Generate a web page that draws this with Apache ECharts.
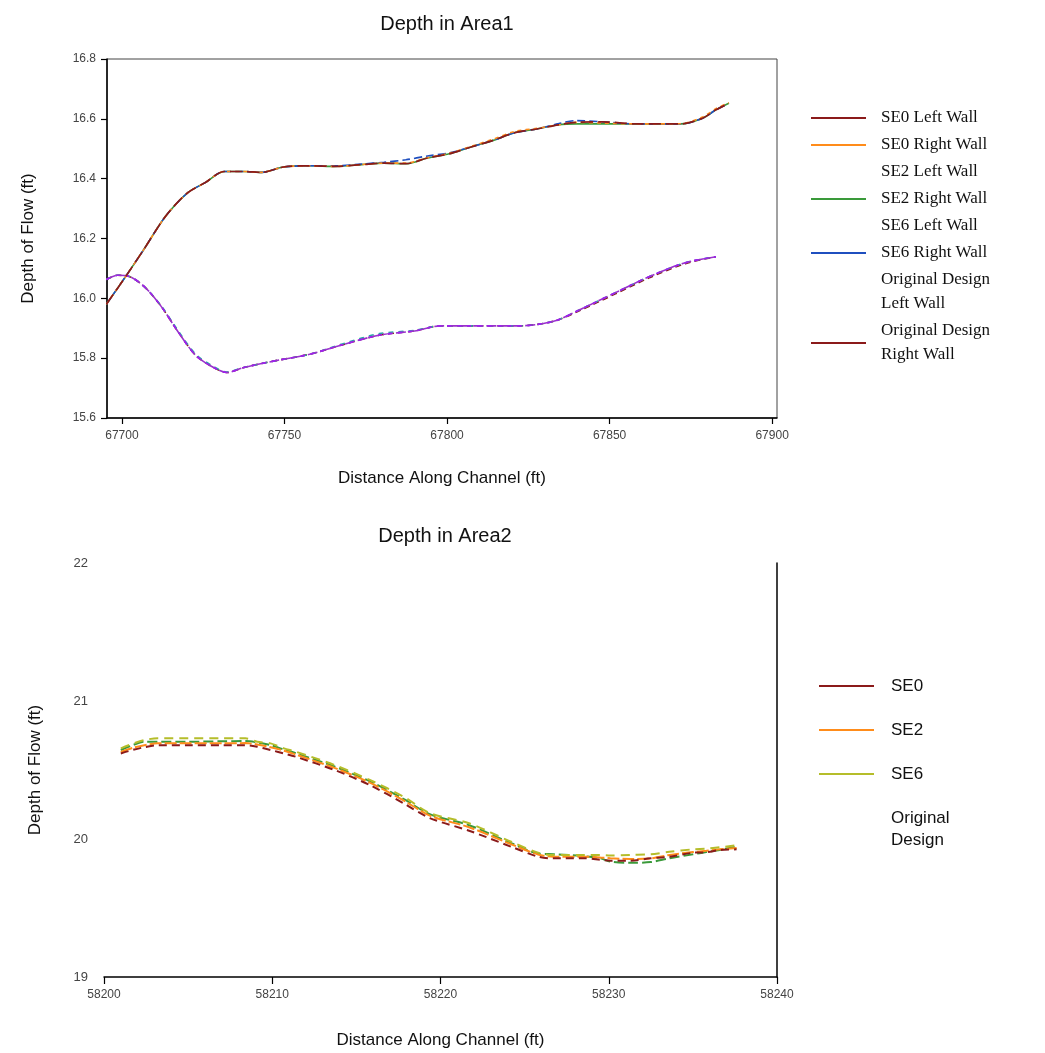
<!DOCTYPE html>
<html>
<head>
<meta charset="utf-8">
<script src="https://cdn.jsdelivr.net/npm/echarts@6/dist/echarts.min.js"></script>
<style>html,body{margin:0;padding:0;background:#fff;}#c{width:1045px;height:1053px;}</style>
</head>
<body>
<div id="c"></div>
<script>
// ---------- Area 1 data ----------
const area1XTicks = [67700, 67750, 67800, 67850, 67900];
const area1UpperX = [67695.2, 67701.2, 67706.7, 67713.4, 67720.1, 67725.5, 67731.5, 67737.5, 67743, 67749.7, 67757.7, 67765.8, 67773.8, 67780.6, 67787.3, 67794, 67800.7, 67807.4, 67814.2, 67820.9, 67827.6, 67834.3, 67839.7, 67847.7, 67858.5, 67871.9, 67878.6, 67882.7, 67886.7];
const origRight = [15.98, 16.074, 16.163, 16.274, 16.352, 16.386, 16.424, 16.424, 16.421, 16.439, 16.443, 16.441, 16.447, 16.452, 16.45, 16.469, 16.483, 16.506, 16.528, 16.554, 16.566, 16.58, 16.588, 16.59, 16.583, 16.583, 16.602, 16.63, 16.652];
const se0Right  = [15.98, 16.074, 16.163, 16.274, 16.352, 16.386, 16.424, 16.424, 16.421, 16.439, 16.443, 16.441, 16.447, 16.452, 16.452, 16.47, 16.485, 16.508, 16.532, 16.558, 16.568, 16.58, 16.588, 16.586, 16.583, 16.584, 16.606, 16.634, 16.654];
const se2Right  = [15.98, 16.074, 16.163, 16.274, 16.352, 16.386, 16.424, 16.424, 16.421, 16.439, 16.443, 16.441, 16.447, 16.452, 16.45, 16.469, 16.483, 16.506, 16.528, 16.554, 16.566, 16.58, 16.583, 16.583, 16.583, 16.583, 16.602, 16.63, 16.652];
const se6Right  = [15.98, 16.074, 16.163, 16.274, 16.352, 16.386, 16.424, 16.424, 16.421, 16.439, 16.443, 16.443, 16.449, 16.455, 16.463, 16.476, 16.486, 16.506, 16.528, 16.554, 16.566, 16.584, 16.594, 16.59, 16.583, 16.583, 16.602, 16.63, 16.652];
const area1LowerX = [67695.2, 67698.6, 67702, 67706.7, 67712, 67717.4, 67722.8, 67728.2, 67732.2, 67737.5, 67747, 67757.7, 67768.5, 67779.2, 67790, 67798, 67822.2, 67833, 67841, 67851.8, 67862.5, 67873.3, 67882.7];
const origLeft = [16.063, 16.077, 16.074, 16.041, 15.974, 15.886, 15.808, 15.769, 15.752, 15.769, 15.791, 15.813, 15.847, 15.877, 15.891, 15.908, 15.908, 15.924, 15.963, 16.019, 16.074, 16.119, 16.139];
const se2Left  = [16.063, 16.077, 16.074, 16.041, 15.974, 15.886, 15.808, 15.769, 15.752, 15.769, 15.791, 15.813, 15.847, 15.877, 15.891, 15.908, 15.908, 15.924, 15.963, 16.019, 16.074, 16.119, 16.139];
const se6Left  = [16.063, 16.077, 16.074, 16.041, 15.976, 15.89, 15.812, 15.772, 15.754, 15.769, 15.791, 15.813, 15.85, 15.882, 15.893, 15.908, 15.908, 15.924, 15.963, 16.019, 16.074, 16.119, 16.139];
const se0Left  = [16.063, 16.077, 16.074, 16.041, 15.974, 15.886, 15.808, 15.769, 15.752, 15.769, 15.791, 15.813, 15.847, 15.877, 15.891, 15.908, 15.908, 15.924, 15.96, 16.015, 16.07, 16.116, 16.139];

// ---------- Area 2 data ----------
const area2X = [58201, 58201.7, 58202.4, 58203.2, 58205, 58207, 58208.4, 58209.1, 58209.9, 58210.7, 58211.4, 58213.7, 58215.8, 58217.8, 58219.4, 58221.7, 58224.2, 58225.8, 58226.7, 58228.6, 58229.5, 58230.1, 58231.3, 58232.5, 58233.6, 58235, 58235.8, 58236.6, 58237.6];
const se0 = [20.62, 20.645, 20.665, 20.68, 20.68, 20.68, 20.68, 20.669, 20.645, 20.62, 20.596, 20.5, 20.391, 20.259, 20.15, 20.06, 19.944, 19.872, 19.86, 19.86, 19.85, 19.843, 19.843, 19.86, 19.872, 19.9, 19.904, 19.92, 19.925];
const se2 = [20.63, 20.66, 20.68, 20.693, 20.693, 20.693, 20.695, 20.685, 20.665, 20.64, 20.612, 20.515, 20.408, 20.28, 20.168, 20.085, 19.962, 19.888, 19.872, 19.872, 19.866, 19.86, 19.855, 19.86, 19.884, 19.905, 19.915, 19.925, 19.935];
const se6 = [20.657, 20.69, 20.717, 20.73, 20.73, 20.73, 20.73, 20.705, 20.693, 20.657, 20.633, 20.536, 20.428, 20.307, 20.186, 20.114, 19.98, 19.901, 19.884, 19.884, 19.884, 19.88, 19.885, 19.889, 19.908, 19.925, 19.93, 19.94, 19.954];
const origDesign = [20.645, 20.68, 20.705, 20.705, 20.705, 20.708, 20.71, 20.7, 20.68, 20.648, 20.622, 20.525, 20.418, 20.29, 20.178, 20.1, 19.97, 19.895, 19.89, 19.875, 19.86, 19.836, 19.827, 19.833, 19.86, 19.889, 19.905, 19.92, 19.945];

const pairs = (xs, ys) => xs.map((x, i) => [x, ys[i]]);
const SANS = 'Liberation Sans, Arial, sans-serif';
const SERIF = 'Liberation Serif, Times New Roman, serif';

function line(name, xi, yi, xs, ys, color, type, width, z) {
  return {
    name, type: 'line', xAxisIndex: xi, yAxisIndex: yi,
    data: pairs(xs, ys), symbol: 'none', showSymbol: false, smooth: 0.3,
    lineStyle: { color, width: width || 1.6, type: type || 'solid' },
    itemStyle: { color }, z: z || 2
  };
}

const chart = echarts.init(document.getElementById('c'), null, { renderer: 'canvas' });
const hidden = { lineStyle: { opacity: 0 }, itemStyle: { opacity: 0 } };
const plain = v => String(v);

chart.setOption({
  animation: false,
  backgroundColor: '#fff',
  title: [
    { text: 'Depth in Area1', left: 442, top: 9, textAlign: 'center',
      textStyle: { fontFamily: SANS, fontSize: 20, fontWeight: 'normal', color: '#111' } },
    { text: 'Depth in Area2', left: 440, top: 521, textAlign: 'center',
      textStyle: { fontFamily: SANS, fontSize: 20, fontWeight: 'normal', color: '#111' } }
  ],
  grid: [
    { left: 107, top: 59, width: 670, height: 359, show: true, borderColor: '#444', borderWidth: 1, backgroundColor: 'transparent' },
    { left: 104, top: 563, width: 673, height: 414 }
  ],
  xAxis: [
    { type: 'value', gridIndex: 0, min: 67695.4, max: 67901.5,
      name: 'Distance Along Channel (ft)', nameLocation: 'middle', nameGap: 52,
      nameTextStyle: { fontFamily: SANS, fontSize: 17, color: '#111' },
      axisLine: { show: true, lineStyle: { color: '#000', width: 1.5 } },
      axisTick: { show: true, length: 6, lineStyle: { color: '#000', width: 1.2 }, customValues: area1XTicks },
      axisLabel: { customValues: area1XTicks, formatter: plain, fontFamily: SANS, fontSize: 12, color: '#444', margin: 12 },
      splitLine: { show: false } },
    { type: 'value', gridIndex: 1, min: 58200, max: 58240, interval: 10,
      name: 'Distance Along Channel (ft)', nameLocation: 'middle', nameGap: 55,
      nameTextStyle: { fontFamily: SANS, fontSize: 17, color: '#111' },
      axisLine: { show: true, lineStyle: { color: '#000', width: 1.5 } },
      axisTick: { show: true, length: 7, lineStyle: { color: '#000', width: 1.2 } },
      axisLabel: { formatter: plain, fontFamily: SANS, fontSize: 12, color: '#444', margin: 12 },
      splitLine: { show: false } }
  ],
  yAxis: [
    { type: 'value', gridIndex: 0, min: 15.6, max: 16.8, interval: 0.2,
      name: 'Depth of Flow (ft)', nameLocation: 'middle', nameGap: 70,
      nameTextStyle: { fontFamily: SANS, fontSize: 17, color: '#111' },
      axisLine: { show: true, lineStyle: { color: '#000', width: 1.5 } },
      axisTick: { show: true, length: 6, lineStyle: { color: '#000', width: 1.2 } },
      axisLabel: { fontFamily: SANS, fontSize: 12, color: '#444', margin: 11, formatter: v => v.toFixed(1) },
      splitLine: { show: false } },
    { type: 'value', gridIndex: 1, min: 19, max: 22, interval: 1,
      name: 'Depth of Flow (ft)', nameLocation: 'middle', nameGap: 60,
      nameTextStyle: { fontFamily: SANS, fontSize: 17, color: '#111' },
      axisLine: { show: false },
      axisTick: { show: false },
      axisLabel: { fontFamily: SANS, fontSize: 13, color: '#444', margin: 16 },
      splitLine: { show: false } },
    { type: 'value', gridIndex: 1, min: 19, max: 22, position: 'right',
      axisLine: { show: true, lineStyle: { color: '#000', width: 1.5 } },
      axisTick: { show: false }, axisLabel: { show: false }, splitLine: { show: false } }
  ],
  legend: [
    { orient: 'vertical', left: 810, top: 106, padding: 0, itemGap: 3,
      itemWidth: 55, itemHeight: 14, selectedMode: false,
      itemStyle: { opacity: 0, borderWidth: 0 },
      lineStyle: { type: 'solid', width: 2 },
      textStyle: { fontFamily: SERIF, fontSize: 17, color: '#111', lineHeight: 24, padding: [0, 0, 0, 10] },
      data: [
        { name: 'SE0 Left Wall' },
        { name: 'SE0 Right Wall' },
        Object.assign({ name: 'SE2 Left Wall' }, hidden),
        { name: 'SE2 Right Wall' },
        Object.assign({ name: 'SE6 Left Wall' }, hidden),
        { name: 'SE6 Right Wall' },
        Object.assign({ name: 'Original Design Left Wall' }, hidden),
        { name: 'Original Design Right Wall' }
      ],
      formatter: n => n.replace('Original Design ', 'Original Design\n') },
    { orient: 'vertical', left: 818, top: 675, padding: 0, itemGap: 22,
      itemWidth: 55, itemHeight: 14, selectedMode: false,
      itemStyle: { opacity: 0, borderWidth: 0 },
      lineStyle: { type: 'solid', width: 2 },
      textStyle: { fontFamily: SANS, fontSize: 17, color: '#111', lineHeight: 22, padding: [0, 0, 0, 12] },
      data: [
        { name: 'SE0' }, { name: 'SE2' }, { name: 'SE6' },
        Object.assign({ name: 'Original Design' }, hidden)
      ],
      formatter: n => n.replace('Original Design', 'Original\nDesign') }
  ],
  series: [
    // Area 1 – lower curve (left walls)
    line('SE0 Left Wall', 0, 0, area1LowerX, se0Left, '#8B1A1A', [6, 4], 1.6, 2),
    line('SE6 Left Wall', 0, 0, area1LowerX, se6Left, '#2AA8A8', [5, 5], 1.6, 3),
    line('SE2 Left Wall', 0, 0, area1LowerX, se2Left, '#9932CC', [10, 3], 1.6, 4),
    line('Original Design Left Wall', 0, 0, area1LowerX, origLeft, '#A020F0', [4, 6], 1.6, 5),
    // Area 1 – upper curve (right walls)
    line('SE2 Right Wall', 0, 0, area1UpperX, se2Right, '#3A9A3A', 'solid', 1.6, 2),
    line('SE6 Right Wall', 0, 0, area1UpperX, se6Right, '#1F4FBF', [8, 4], 1.6, 3),
    line('SE0 Right Wall', 0, 0, area1UpperX, se0Right, '#FF8C1A', [4, 4], 1.6, 4),
    line('Original Design Right Wall', 0, 0, area1UpperX, origRight, '#8B1A1A', [12, 5], 1.7, 5),
    // Area 2
    line('Original Design', 1, 1, area2X, origDesign, '#3A9A3A', [10, 4], 2, 2),
    line('SE2', 1, 1, area2X, se2, '#FF8C1A', [12, 3], 2, 3),
    line('SE0', 1, 1, area2X, se0, '#8B1A1A', [8, 5], 2, 4),
    line('SE6', 1, 1, area2X, se6, '#B5BD2A', [9, 6], 2, 5)
  ]
});
</script>
</body>
</html>
